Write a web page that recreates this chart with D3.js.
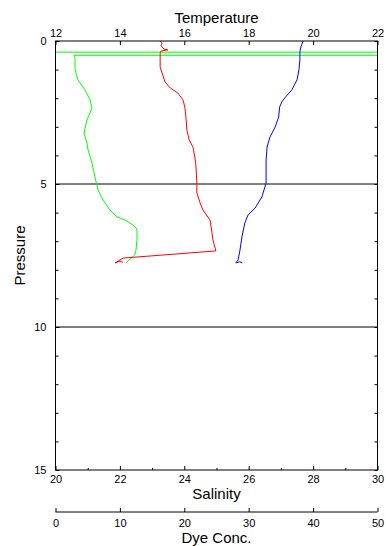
<!DOCTYPE html>
<html><head><meta charset="utf-8">
<script src="https://cdn.jsdelivr.net/npm/d3@7"></script>
<style>
body{margin:0;background:#fff;}
svg{display:block;font-family:"Liberation Sans",Arial,Helvetica,sans-serif;}
</style></head><body>
<script>
// Temperature profile (blue, top axis)
const tempP = [0,0.21,0.38,0.66,1.01,1.36,1.71,1.99,2.13,2.31,2.66,3.01,3.36,3.71,4.16,4.97,5.45,5.84,6.08,6.36,6.85,7.31,7.66,7.76,7.72,7.76];
const tempV = [19.69,19.62,19.59,19.59,19.56,19.5,19.34,19.12,19.03,18.96,18.93,18.82,18.66,18.57,18.54,18.54,18.41,18.2,17.98,17.88,17.79,17.73,17.67,17.6,17.72,17.8];
// Salinity profile (red, bottom axis)
const salP = [0,0.07,0.17,0.28,0.31,0.35,0.42,0.91,1.12,1.43,1.64,1.82,2.06,2.34,2.66,3.11,3.46,3.71,4.09,4.34,4.97,5.31,5.66,5.91,6.26,6.71,6.96,7.34,7.59,7.76,7.7,7.74];
const salV = [23.25,23.31,23.28,23.37,23.49,23.28,23.25,23.25,23.31,23.4,23.56,23.8,23.96,24.02,24.05,24.08,24.15,24.27,24.33,24.36,24.39,24.39,24.49,24.58,24.8,24.86,24.89,24.98,22.1,21.85,22.0,22.1];
// Dye concentration profile (green, dye axis)
const dyeP = [0.39,0.39,0.5,0.5,0.59,1.01,1.36,1.71,2.06,2.34,2.76,3.22,3.57,3.81,4.27,4.76,5.21,5.56,5.91,6.15,6.26,6.43,6.57,6.96,7.31,7.48,7.62,7.76];
const dyeV = [-5,60,60,2.87,3.03,3.03,3.49,4.58,5.36,5.67,4.89,4.43,4.89,5.05,5.67,6.13,6.6,7.38,8.46,9.55,10.8,12.0,12.65,12.65,12.5,12.3,11.6,11.0];
// Reference lines
const refP = [5,10];
// Ticks
const tempTicks = [12,14,16,18,20,22];
const salTicks = [20,22,24,26,28,30];
const salMinor = [21,23,25,27,29];
const dyeTicks = [0,10,20,30,40,50];
const presTicks = [0,5,10,15];
const presMinor = [1,2,3,4,6,7,8,9,11,12,13,14];

const W=386,H=546;
const L=55.5,R=377.5,T=41,B=470;
const svg=d3.select("body").append("svg").attr("width",W).attr("height",H);

const y=d3.scaleLinear().domain([0,15]).range([T,B]);
const xT=d3.scaleLinear().domain([12,22]).range([L,R]);
const xS=d3.scaleLinear().domain([20,30]).range([L,R]);
const xD=d3.scaleLinear().domain([0,50]).range([L,R]);

svg.append("clipPath").attr("id","clip").append("rect")
  .attr("x",L).attr("y",T).attr("width",R-L).attr("height",B-T);

const g=svg.append("g").attr("clip-path","url(#clip)");
g.selectAll("line.ref").data(refP).enter().append("line")
  .attr("x1",L).attr("x2",R).attr("y1",d=>y(d)).attr("y2",d=>y(d))
  .attr("stroke","#000").attr("stroke-width",1);

const line=(xs,vals,ps)=>d3.line().x((d,i)=>xs(vals[i])).y((d,i)=>y(ps[i]))(ps);
g.append("path").attr("d",line(xD,dyeV,dyeP)).attr("fill","none").attr("stroke","#00ff00").attr("stroke-width",1);
g.append("path").attr("d",line(xS,salV,salP)).attr("fill","none").attr("stroke","#ff0000").attr("stroke-width",1);
g.append("path").attr("d",line(xT,tempV,tempP)).attr("fill","none").attr("stroke","#0000ff").attr("stroke-width",1);

svg.append("rect").attr("x",L).attr("y",T).attr("width",R-L).attr("height",B-T)
  .attr("fill","none").attr("stroke","#000").attr("stroke-width",1);

const fs=11;
function styleAxis(sel){
  sel.select(".domain").remove();
  sel.selectAll("text").attr("font-size",fs).attr("fill","#000").attr("font-family","Liberation Sans, Arial, sans-serif");
  sel.selectAll("line").attr("stroke","#000");
}
const aT=svg.append("g").attr("transform",`translate(0,${T})`)
  .call(d3.axisTop(xT).tickValues(tempTicks).tickSizeInner(-4).tickSizeOuter(0).tickPadding(4).tickFormat(d3.format("d")));
styleAxis(aT);
const aS=svg.append("g").attr("transform",`translate(0,${B})`)
  .call(d3.axisBottom(xS).tickValues(salTicks).tickSizeInner(-4).tickSizeOuter(0).tickPadding(5).tickFormat(d3.format("d")));
styleAxis(aS);
const aSm=svg.append("g").attr("transform",`translate(0,${B})`)
  .call(d3.axisBottom(xS).tickValues(salMinor).tickSizeInner(-2).tickSizeOuter(0).tickFormat(""));
styleAxis(aSm);
const aP=svg.append("g").attr("transform",`translate(${L},0)`)
  .call(d3.axisLeft(y).tickValues(presTicks).tickSizeInner(-4).tickSizeOuter(0).tickPadding(9).tickFormat(d3.format("d")));
styleAxis(aP);
const aPm=svg.append("g").attr("transform",`translate(${L},0)`)
  .call(d3.axisLeft(y).tickValues(presMinor).tickSizeInner(-3).tickSizeOuter(0).tickFormat(""));
styleAxis(aPm);
const aPr=svg.append("g").attr("transform",`translate(${R},0)`)
  .call(d3.axisRight(y).tickValues(presMinor.concat(presTicks)).tickSizeInner(-3).tickSizeOuter(0).tickFormat(""));
styleAxis(aPr);
const DY=512;
const aD=svg.append("g").attr("transform",`translate(0,${DY})`)
  .call(d3.axisBottom(xD).tickValues(dyeTicks).tickSizeInner(-4).tickSizeOuter(0).tickPadding(7).tickFormat(d3.format("d")));
aD.select(".domain").attr("d",`M${L},0H${R}`).attr("stroke","#000");
aD.selectAll("text").attr("font-size",fs).attr("fill","#000");
aD.selectAll("line").attr("stroke","#000");

svg.append("text").attr("x",(L+R)/2).attr("y",23).attr("text-anchor","middle").attr("font-size",15).text("Temperature");
svg.append("text").attr("x",(L+R)/2).attr("y",499).attr("text-anchor","middle").attr("font-size",15).text("Salinity");
svg.append("text").attr("x",(L+R)/2).attr("y",543).attr("text-anchor","middle").attr("font-size",15).text("Dye Conc.");
svg.append("text").attr("transform",`translate(25,${(T+B)/2}) rotate(-90)`).attr("text-anchor","middle").attr("font-size",15).text("Pressure");
</script>
</body></html>
